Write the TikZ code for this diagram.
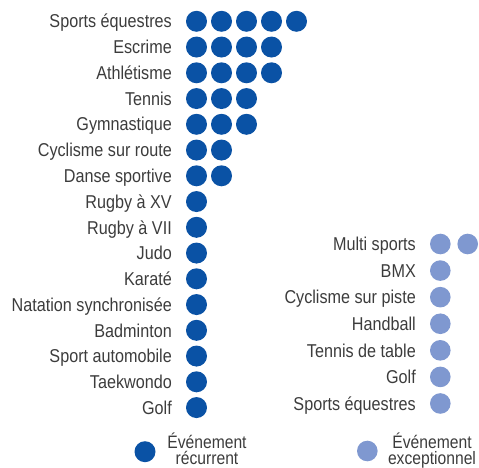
\documentclass[tikz,border=0pt]{standalone}
\usepackage{fontspec}
\newfontfamily\cond[FakeStretch=0.87]{Liberation Sans}
\definecolor{rec}{HTML}{0A52A5}
\definecolor{exc}{HTML}{7F98D0}
\definecolor{txt}{HTML}{3C3C3C}
\begin{document}
\begin{tikzpicture}[x=1pt,y=-1pt,
  lab/.style={anchor=base east,inner sep=0pt,text=txt,font=\cond\fontsize{18.6}{20}\selectfont},
  legtxt/.style={anchor=base,inner sep=0pt,text=txt,align=center,font=\cond\fontsize{18}{16}\selectfont},
  dotR/.style={circle,fill=rec,inner sep=0pt,minimum size=21pt},
  dotE/.style={circle,fill=exc,inner sep=0pt,minimum size=20.6pt}]
\useasboundingbox (0,0) rectangle (479,468);
\foreach \t/\n [count=\i from 0] in {Sports équestres/5, Escrime/4, Athlétisme/4, Tennis/3, Gymnastique/3, Cyclisme sur route/2, Danse sportive/2, Rugby à XV/1, Rugby à VII/1, Judo/1, Karaté/1, Natation synchronisée/1, Badminton/1, Sport automobile/1, Taekwondo/1, Golf/1}{
  \node[lab] (L\i) at (172,{21.3+25.75*\i+6.7}) {\t};
  \foreach \k in {1,...,\n}{
    \node[dotR] (L\i-\k) at ({196.5+25*(\k-1)},{21.3+25.75*\i}) {};
  }
}
\foreach \t/\n [count=\i from 0] in {Multi sports/2, BMX/1, Cyclisme sur piste/1, Handball/1, Tennis de table/1, Golf/1, Sports équestres/1}{
  \node[lab] (R\i) at (416,{244+26.58*\i+6.7}) {\t};
  \foreach \k in {1,...,\n}{
    \node[dotE] (R\i-\k) at ({440.3+27.4*(\k-1)},{244+26.58*\i}) {};
  }
}
\node[dotR] (legR) at (145,451.7) {};
\node[legtxt] (legRt) at (207,464.5) {Événement\\récurrent};
\node[dotE] (legE) at (367.3,451) {};
\node[legtxt] (legEt) at (432,464.5) {Événement\\exceptionnel};
\end{tikzpicture}
\end{document}
